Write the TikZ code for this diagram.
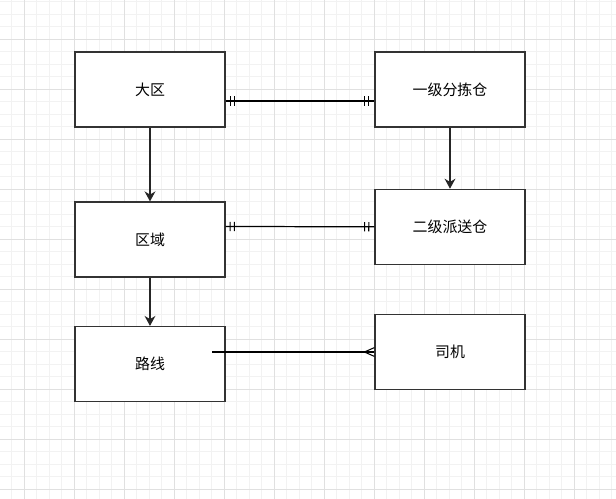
\documentclass[tikz,border=0pt]{standalone}
\usepackage{fontspec}
\newfontfamily\cjk{Noto Sans CJK SC}
\usetikzlibrary{arrows.meta, decorations.markings}

\tikzset{
  entity/.style={draw=black!80, line width=0.7pt, fill=white, rectangle,
    minimum width=3cm, minimum height=1.5cm, inner sep=0pt,
    font=\cjk\fontsize{8.5}{10}\selectfont},
  rel/.style={draw=black, line width=0.7pt},
  oneone/.style={postaction={decorate, decoration={markings,
    mark=at position 2.6pt with {\draw[line width=0.6pt] (0,-2.6pt) -- (0,2.6pt);},
    mark=at position 5pt with {\draw[line width=0.6pt] (0,-2.6pt) -- (0,2.6pt);},
    mark=at position -3.2pt with {\draw[line width=0.6pt] (0,-2.6pt) -- (0,2.6pt);},
    mark=at position -5.6pt with {\draw[line width=0.6pt] (0,-2.6pt) -- (0,2.6pt);}}}},
  many/.style={postaction={decorate, decoration={markings,
    mark=at position 1 with {\draw[line width=0.6pt] (0,2.5pt) -- (-5.7pt,0) -- (0,-2.5pt);}}}},
  flow/.style={draw=black!85, line width=0.7pt, -{Stealth[length=5.7pt, width=6.2pt]}}
}

\begin{document}
\begin{tikzpicture}[x=0.02cm, y=-0.02cm]
  \useasboundingbox (0,0) rectangle (616,499);
  \fill[white] (0,0) rectangle (616,499);

  % grid
  \foreach \gx in {-1,11.5,...,616} \draw[black!5, line width=0.5pt] (\gx,0) -- (\gx,499);
  \foreach \gy in {1.5,14,...,499} \draw[black!5, line width=0.5pt] (0,\gy) -- (616,\gy);
  \foreach \gx in {24,74,...,616} \draw[black!12, line width=0.5pt] (\gx,0) -- (\gx,499);
  \foreach \gy in {39,89,...,499} \draw[black!12, line width=0.5pt] (0,\gy) -- (616,\gy);

  % entities
  \node[entity] (daqu) at (150,89.5) {大区};
  \node[entity] (fenjian) at (450,89.5) {一级分拣仓};
  \node[entity] (quyu) at (150,239.5) {区域};
  \node[entity] (erji) at (450,226.8) {二级派送仓};
  \node[entity] (luxian) at (150,364) {路线};
  \node[entity] (siji) at (450,352) {司机};

  % hierarchy
  \draw[flow] (daqu.south) -- (quyu.north);
  \draw[flow] (quyu.south) -- (luxian.north);
  \draw[flow] (fenjian.south) -- (erji.north);

  % relations
  \draw[rel, oneone] ([yshift=-0.23cm]daqu.east) -- ([yshift=-0.23cm]fenjian.west);
  \draw[rel, oneone] ([yshift=0.26cm]quyu.east) -- (erji.west);
  \coordinate (lxout) at (212,352);
  \draw[rel, many] (lxout) -- (siji.west);
\end{tikzpicture}
\end{document}
